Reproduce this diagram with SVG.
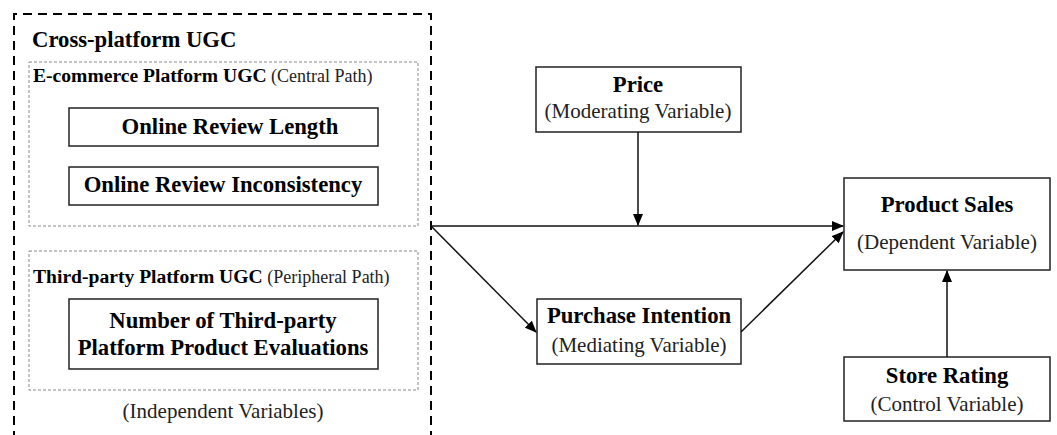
<svg xmlns="http://www.w3.org/2000/svg" width="1057" height="435" viewBox="0 0 1057 435">
<style>
.box{fill:#fff;stroke:#222;stroke-width:1.5}
.grp{fill:none;stroke:#888;stroke-width:1;stroke-dasharray:3,2}
.outer{fill:none;stroke:#000;stroke-width:2;stroke-dasharray:9,6}
.b{font-family:"Liberation Serif",serif;font-weight:bold;fill:#000}
.r{font-family:"Liberation Serif",serif;fill:#222}
.t{font-size:22.7px}
.s{font-size:21px}
.con{stroke:#111;stroke-width:1.5;fill:none}
</style>
<defs>
<marker id="ah" markerWidth="12" markerHeight="10" refX="11" refY="5" orient="auto" markerUnits="userSpaceOnUse">
<path d="M0,0 L12,5 L0,10 z" fill="#000"/>
</marker>
</defs>
<rect width="1057" height="435" fill="#fff"/>
<g id="cross-platform">
<path class="outer" d="M14,440 L14,14 L431,14 L431,440"/>
<text class="b t" x="32" y="47">Cross-platform UGC</text>
</g>
<g id="ecommerce-group">
<rect class="grp" x="29" y="62" width="389" height="164"/>
<text x="33" y="82"><tspan class="b" font-size="19.6">E-commerce Platform UGC</tspan><tspan class="r" fill="#333" font-size="18"> (Central Path)</tspan></text>
</g>
<g id="review-length">
<rect class="box" x="69" y="108" width="309" height="38"/>
<text class="b t" x="230" y="134" text-anchor="middle">Online Review Length</text>
</g>
<g id="review-inconsistency">
<rect class="box" x="69" y="167" width="309" height="38"/>
<text class="b t" x="223" y="192" text-anchor="middle">Online Review Inconsistency</text>
</g>
<g id="thirdparty-group">
<rect class="grp" x="29" y="251" width="389" height="139"/>
<text x="33" y="283"><tspan class="b" font-size="19.6">Third-party Platform UGC</tspan><tspan class="r" fill="#333" font-size="18"> (Peripheral Path)</tspan></text>
</g>
<g id="third-party-evaluations">
<rect class="box" x="69" y="299" width="309" height="70"/>
<text class="b t" x="223" y="328" text-anchor="middle">Number of Third-party</text>
<text class="b t" x="223" y="355" text-anchor="middle">Platform Product Evaluations</text>
</g>
<g id="independent-label">
<text class="r s" x="223" y="418" text-anchor="middle">(Independent Variables)</text>
</g>
<g id="price">
<rect class="box" x="536" y="67" width="205" height="65"/>
<text class="b t" x="638" y="92" text-anchor="middle">Price</text>
<text class="r s" x="638" y="118" text-anchor="middle">(Moderating Variable)</text>
</g>
<g id="purchase-intention">
<rect class="box" x="537" y="299" width="204" height="65"/>
<text class="b t" x="639" y="323" text-anchor="middle">Purchase Intention</text>
<text class="r s" x="639" y="352" text-anchor="middle">(Mediating Variable)</text>
</g>
<g id="product-sales">
<rect class="box" x="844" y="178" width="206" height="92"/>
<text class="b t" x="947" y="212" text-anchor="middle">Product Sales</text>
<text class="r s" x="947" y="249" text-anchor="middle">(Dependent Variable)</text>
</g>
<g id="store-rating">
<rect class="box" x="844" y="357" width="206" height="64"/>
<text class="b t" x="947" y="383" text-anchor="middle">Store Rating</text>
<text class="r s" x="947" y="411" text-anchor="middle">(Control Variable)</text>
</g>
<g id="connectors">
<line class="con" x1="431" y1="226" x2="843" y2="226" marker-end="url(#ah)"/>
<line class="con" x1="638" y1="132" x2="638" y2="225" marker-end="url(#ah)"/>
<line class="con" x1="431" y1="226" x2="536" y2="332" marker-end="url(#ah)"/>
<line class="con" x1="741" y1="332" x2="843" y2="232" marker-end="url(#ah)"/>
<line class="con" x1="947" y1="357" x2="947" y2="271" marker-end="url(#ah)"/>
</g>
</svg>
